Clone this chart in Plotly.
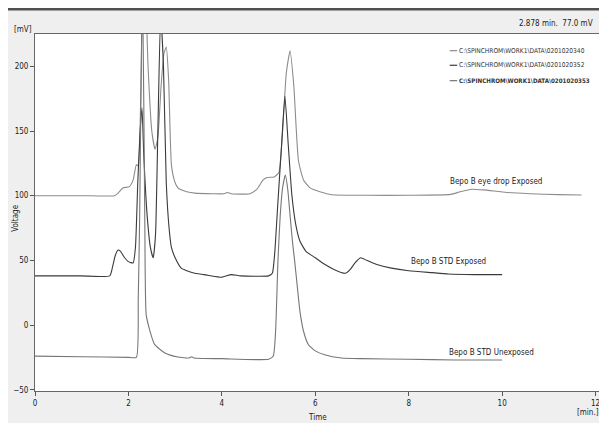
import plotly.graph_objects as go

# ---- data ----
t_eye = [0, 1.0, 1.7, 1.78, 1.88, 2.02, 2.1, 2.17, 2.21, 2.26, 2.3, 2.36, 2.42, 2.5, 2.57, 2.63, 2.7,
         2.76, 2.81, 2.86, 2.92, 2.99, 3.06, 3.13, 3.25, 3.42, 3.8, 4.05, 4.12, 4.2, 4.6, 4.75, 4.88,
         4.97, 5.12, 5.22, 5.3, 5.38, 5.46, 5.54, 5.64, 5.75, 5.89, 6.1, 6.35, 7.1, 8.0, 8.9, 9.1,
         9.35, 9.6, 10.1, 10.6, 11.2, 11.7]
v_eye = [100, 100, 100, 102, 106, 107, 112, 124, 123, 170, 240, 260, 200, 150, 136, 145, 185,
         210, 215, 190, 124, 111, 106, 104.5, 103, 102, 101.5, 101.5, 102.5, 101.5, 101.5, 105, 112,
         114, 114.5, 118, 150, 195, 212, 185, 127, 112, 106, 103, 100.7, 100.3, 100.3, 101, 103,
         105, 104.5, 102.5, 101.5, 100.8, 100.5]

t_exp = [0, 1.0, 1.6, 1.66, 1.72, 1.78, 1.83, 1.9, 2.0, 2.1, 2.15, 2.2, 2.25, 2.29, 2.33, 2.4, 2.47,
         2.53, 2.58, 2.63, 2.69, 2.75, 2.81, 2.87, 2.92, 3.0, 3.13, 3.25, 3.42, 3.7, 4.0, 4.2, 4.4,
         5.0, 5.08, 5.13, 5.2, 5.28, 5.35, 5.42, 5.5, 5.58, 5.67, 5.8, 6.0, 6.2, 6.4, 6.64, 6.75,
         6.85, 6.97, 7.1, 7.3, 7.63, 8.0, 8.5, 8.85, 9.4, 10.0]
v_exp = [38, 38, 38, 45, 54, 58, 57, 53, 49, 48, 60, 110, 150, 168, 130, 85, 60,
         52, 70, 150, 240, 200, 110, 75, 60, 52, 44, 42, 40, 38.5, 37, 39, 38,
         38, 40, 55, 95, 140, 177, 140, 100, 78, 65, 57, 52, 47, 43, 40, 43,
         48, 52, 50, 47, 44, 42, 40.5, 39.5, 39, 39]

t_unexp = [0, 1.0, 2.0, 2.17, 2.21, 2.24, 2.3, 2.35, 2.38, 2.46, 2.56, 2.78, 3.06, 3.3, 3.35, 3.4,
           4.0, 5.0, 5.1, 5.15, 5.2, 5.25, 5.3, 5.36, 5.41, 5.46, 5.51, 5.56, 5.62, 5.67, 5.75,
           5.85, 6.0, 6.2, 6.56, 7.0, 8.0, 9.0, 10.0]
v_unexp = [-24, -24.5, -25, -25, 20, 83, 270, 83, 8, -4.5, -15, -21.6, -24.7, -25.5, -24.5, -25.5,
           -26, -26.5, -24, -5, 49, 85, 106, 116, 105, 85, 65, 49, 28, 11, -5,
           -15, -20, -23, -25.5, -26, -26.5, -27, -27]

files = ["C:\\SPINCHROM\\WORK1\\DATA\\0201020340",
         "C:\\SPINCHROM\\WORK1\\DATA\\0201020352",
         "C:\\SPINCHROM\\WORK1\\DATA\\0201020353"]
trace_labels = ["Bepo B eye drop Exposed", "Bepo B STD Exposed", "Bepo B STD Unexposed"]
label_x = [9.86, 8.85, 9.78]
label_y = [111, 49.5, -21]
colors = ["#8c8c8c", "#3a3a3a", "#767676"]

x_ticks = [0, 2, 4, 6, 8, 10, 12]
y_ticks = [-50, 0, 50, 100, 150, 200]

FONT = "DejaVu Sans Condensed, Liberation Sans Narrow, Liberation Sans, Arial, sans-serif"

W, H = 607, 423
L, R, T, B = 27, 591.7, 26, 383.3


def px(xp):
    return (xp - L) / (R - L)


def py(yp):
    return (B - yp) / (B - T)


fig = go.Figure()
for t, v, c, name in zip([t_eye, t_exp, t_unexp], [v_eye, v_exp, v_unexp], colors, files):
    fig.add_trace(go.Scatter(x=t, y=v, mode="lines",
                             line=dict(color=c, width=1.1, shape="spline", smoothing=0.5),
                             name=name, showlegend=False))

annotations = []
for txt, lx, ly in zip(trace_labels, label_x, label_y):
    annotations.append(dict(x=lx, y=ly, xref="x", yref="y", text=txt, showarrow=False,
                            font=dict(family=FONT, size=8, color="#222")))

shapes = []
leg_y = [42.7, 57.3, 72.7]
leg_sizes = [6.6, 6.6, 6.2]
for i, (f, c) in enumerate(zip(files, colors)):
    shapes.append(dict(type="line", xref="paper", yref="paper", x0=px(441.5), x1=px(449),
                       y0=py(leg_y[i]), y1=py(leg_y[i]), line=dict(color=c, width=1.2)))
    txt = "<b>%s</b>" % f if i == 2 else f
    annotations.append(dict(x=px(452), y=py(leg_y[i]), xref="paper", yref="paper", text=txt,
                            showarrow=False, xanchor="left", yanchor="middle", borderpad=0,
                            xshift=-2, font=dict(family=FONT, size=leg_sizes[i], color="#333")))

annotations += [
    dict(x=px(587), y=py(15.5), xref="paper", yref="paper", text="2.878 min.  77.0 mV",
         showarrow=False, xanchor="right", yanchor="middle", font=dict(family=FONT, size=8, color="#222")),
    dict(x=px(15), y=py(21), xref="paper", yref="paper", text="[mV]", showarrow=False,
         xanchor="center", yanchor="middle", font=dict(family=FONT, size=8, color="#222")),
    dict(x=px(8), y=py(210), xref="paper", yref="paper", text="Voltage", showarrow=False,
         textangle=-90, xanchor="center", yanchor="middle", font=dict(family=FONT, size=8, color="#222")),
    dict(x=px(309), y=py(410), xref="paper", yref="paper", text="Time", showarrow=False,
         xanchor="center", yanchor="middle", font=dict(family=FONT, size=8, color="#222")),
    dict(x=px(580), y=py(405), xref="paper", yref="paper", text="[min.]", showarrow=False,
         xanchor="center", yanchor="middle", font=dict(family=FONT, size=8, color="#222")),
]

# window chrome strips
shapes += [
    dict(type="rect", xref="paper", yref="paper", x0=px(0), x1=px(W), y0=py(0), y1=py(2.5),
         fillcolor="#505050", line=dict(width=0), layer="below"),
    dict(type="line", xref="paper", yref="paper", x0=px(0), x1=px(W), y0=py(418), y1=py(418),
         line=dict(color="#a0a0a0", width=1)),
]

fig.update_layout(
    width=W, height=H,
    margin=dict(l=L, r=W - R, t=T, b=H - B, pad=0),
    paper_bgcolor="#efefef", plot_bgcolor="white",
    font=dict(family=FONT, size=8, color="#222"),
    annotations=annotations, shapes=shapes, showlegend=False,
)
fig.update_xaxes(range=[0, (R - L) / 46.69], tickvals=x_ticks, ticks="outside", ticklen=4,
                 tickcolor="#555", showline=True, linecolor="#666", linewidth=1, mirror=True,
                 showgrid=False, zeroline=False, automargin=False,
                 tickfont=dict(size=8, family=FONT, color="#222"))
fig.update_yaxes(range=[-51, 225], tickvals=y_ticks, ticks="outside", ticklen=4,
                 tickcolor="#555", showline=True, linecolor="#666", linewidth=1, mirror=True,
                 showgrid=False, zeroline=False, automargin=False,
                 tickfont=dict(size=8, family=FONT, color="#222"))

fig.write_html("out.html")
